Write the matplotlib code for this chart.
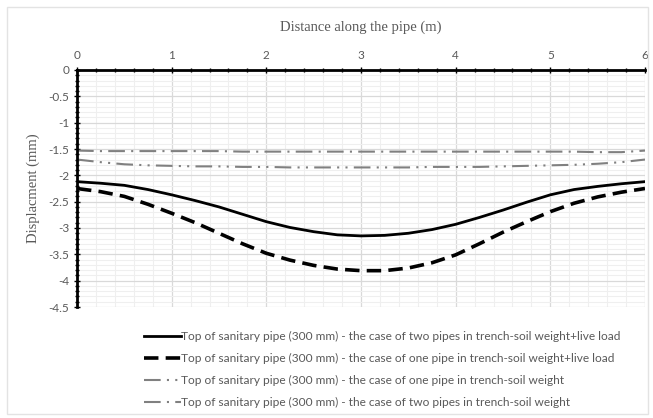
import matplotlib
matplotlib.use("Agg")
import matplotlib.pyplot as plt
from matplotlib.ticker import MultipleLocator
from matplotlib.patches import Rectangle

# distance along the pipe (m)
x = [0, 0.25, 0.5, 0.75, 1, 1.25, 1.5, 1.75, 2, 2.25, 2.5, 2.75, 3,
     3.25, 3.5, 3.75, 4, 4.25, 4.5, 4.75, 5, 5.25, 5.5, 5.75, 6]

two_live = [-2.12, -2.15, -2.19, -2.27, -2.37, -2.48, -2.60, -2.74, -2.88, -2.99, -3.07, -3.13, -3.15,
            -3.14, -3.10, -3.03, -2.93, -2.80, -2.66, -2.51, -2.37, -2.27, -2.21, -2.16, -2.12]
one_live = [-2.25, -2.31, -2.40, -2.55, -2.72, -2.90, -3.10, -3.30, -3.48, -3.61, -3.71, -3.78, -3.81,
            -3.81, -3.76, -3.66, -3.51, -3.30, -3.08, -2.88, -2.69, -2.53, -2.41, -2.32, -2.25]
one_soil = [-1.70, -1.75, -1.79, -1.81, -1.82, -1.83, -1.83, -1.84, -1.84, -1.85, -1.85, -1.85, -1.85,
            -1.85, -1.85, -1.84, -1.84, -1.84, -1.83, -1.82, -1.81, -1.80, -1.78, -1.75, -1.70]
two_soil = [-1.53, -1.54, -1.54, -1.54, -1.54, -1.54, -1.54, -1.55, -1.55, -1.55, -1.55, -1.55, -1.55,
            -1.55, -1.55, -1.55, -1.55, -1.55, -1.55, -1.55, -1.55, -1.55, -1.56, -1.56, -1.53]

labels = [
    "Top of sanitary pipe (300 mm) - the case of two pipes in trench-soil weight+live load",
    "Top of sanitary pipe (300 mm) - the case of one pipe in trench-soil weight+live load",
    "Top of sanitary pipe (300 mm) - the case of one pipe in trench-soil weight",
    "Top of sanitary pipe (300 mm) - the case of two pipes in trench-soil weight",
]

txt = "#595959"
fig = plt.figure(figsize=(6.53, 4.18), dpi=100)
ax = fig.add_axes([77 / 653, 1 - 307 / 418, 568 / 653, 237 / 418])

ax.plot(x, two_live, color="black", lw=2, label=labels[0], zorder=5)
ax.plot(x, one_live, color="black", lw=2.6, dashes=(4, 2), label=labels[1], zorder=5)
ax.plot(x, one_soil, color="#808080", lw=1.5, dashes=(8, 3, 1, 3, 1, 3), label=labels[2], zorder=4)
ax.plot(x, two_soil, color="#808080", lw=1.5, dashes=(8, 3, 1, 3), label=labels[3], zorder=4)

ax.set_xlim(0, 6)
ax.set_ylim(-4.5, 0)
ax.xaxis.set_major_locator(MultipleLocator(1))
ax.xaxis.set_minor_locator(MultipleLocator(0.2))
ax.yaxis.set_major_locator(MultipleLocator(0.5))
ax.yaxis.set_minor_locator(MultipleLocator(0.1))
ax.yaxis.set_major_formatter(plt.FuncFormatter(lambda v, p: "0" if v == 0 else f"{v:g}"))

ax.xaxis.tick_top()
ax.xaxis.set_label_position("top")
ax.grid(which="major", color="#d9d9d9", lw=0.9)
ax.grid(which="minor", color="#efefef", lw=0.8)
ax.set_axisbelow(True)

for s in ["right", "bottom"]:
    ax.spines[s].set_visible(False)
for s in ["top", "left"]:
    ax.spines[s].set_linewidth(2)
    ax.spines[s].set_zorder(6)

ax.tick_params(which="major", direction="inout", length=5, width=1, colors="black",
               labelcolor=txt, labelsize=8.5)
ax.tick_params(which="minor", direction="inout", length=3, width=1, colors="black")
ax.tick_params(axis="x", pad=4)
ax.tick_params(axis="y", pad=3)
for lab in ax.get_xticklabels() + ax.get_yticklabels():
    lab.set_family("Lato")

fig.text(361 / 653, 1 - 27 / 418, "Distance along the pipe (m)", ha="center", va="center",
         family="Liberation Serif", fontsize=10.5, color=txt)
fig.text(33 / 653, 1 - 188 / 418, "Displacment (mm)", ha="center", va="center", rotation=90,
         family="Liberation Serif", fontsize=10.5, color=txt)

leg = fig.legend(loc="upper left", bbox_to_anchor=(133 / 653, 1 - 320 / 418), frameon=False,
                 handlelength=3.18, handletextpad=0.0, labelspacing=0.93,
                 prop={"family": "Lato", "size": 8.55}, labelcolor=txt)

fig.patches.append(Rectangle((7 / 653, 4 / 418), 641 / 653, 407 / 418, transform=fig.transFigure,
                             fill=False, edgecolor="#e3e3e3", lw=1))

fig.savefig("out.png", dpi=100)
